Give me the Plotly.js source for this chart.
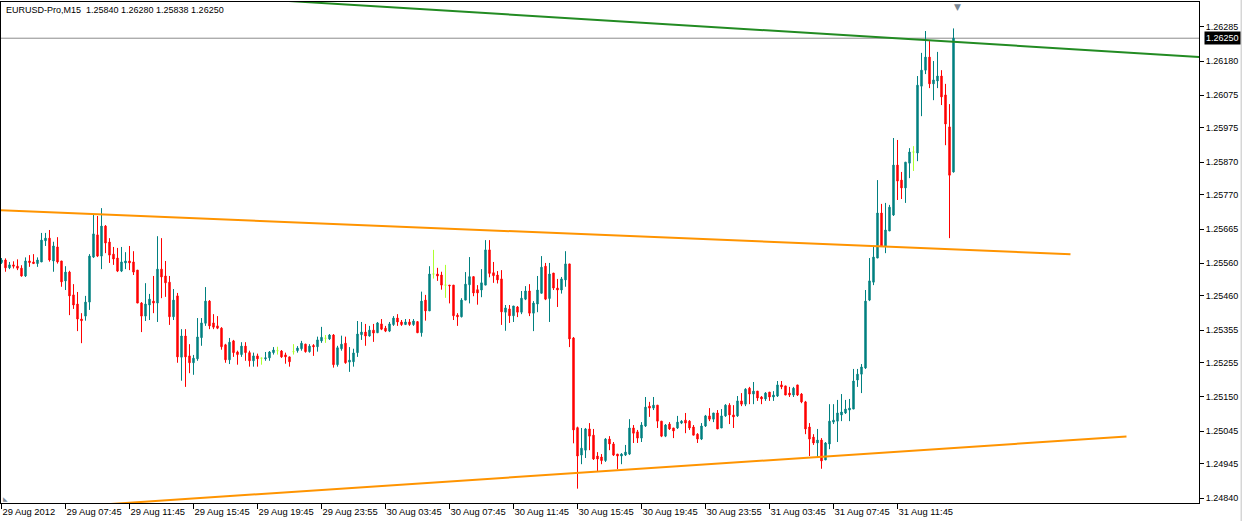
<!DOCTYPE html>
<html><head><meta charset="utf-8">
<script src="https://cdn.plot.ly/plotly-3.0.1.min.js"></script>
<style>html,body{margin:0;padding:0;background:#fff;overflow:hidden}#chart{width:1242px;height:521px;}</style>
</head><body><div id="chart"></div>
<script>
const headerText = "EURUSD-Pro,M15  1.25840 1.26280 1.25838 1.26250";

const openP = [
1.25562,1.25570,1.25546,1.25555,1.25551,1.25545,1.25521,1.25567,1.25564,1.25559,
1.25564,1.25629,1.25637,1.25567,1.25610,1.25567,1.25506,1.25533,1.25463,1.25435,
1.25389,1.25398,1.25441,1.25579,1.25647,1.25582,1.25674,1.25625,1.25588,1.25576,
1.25536,1.25561,1.25567,1.25564,1.25539,1.25438,1.25398,1.25432,1.25444,1.25438,
1.25542,1.25521,1.25502,1.25396,1.25460,1.25272,1.25337,1.25276,1.25255,1.25267,
1.25332,1.25376,1.25444,1.25377,1.25368,1.25361,1.25310,1.25264,1.25322,1.25288,
1.25280,1.25306,1.25286,1.25261,1.25276,1.25269,1.25267,1.25270,1.25286,1.25292,
1.25291,1.25279,1.25273,1.25289,1.25292,1.25298,1.25312,1.25289,1.25308,1.25304,
1.25322,1.25330,1.25328,1.25340,1.25249,1.25298,1.25315,1.25257,1.25258,1.25286,
1.25341,1.25349,1.25337,1.25355,1.25347,1.25374,1.25361,1.25352,1.25372,1.25392,
1.25380,1.25372,1.25380,1.25372,1.25381,1.25347,1.25447,1.25414,1.25527,1.25527,
1.25524,1.25493,1.25493,1.25493,1.25401,1.25396,1.25447,1.25494,1.25519,1.25479,
1.25478,1.25493,1.25601,1.25531,1.25524,1.25512,1.25410,1.25420,1.25399,1.25426,
1.25410,1.25450,1.25475,1.25407,1.25435,1.25468,1.25551,1.25452,1.25530,1.25484,
1.25478,1.25509,1.25558,1.25331,1.25056,1.24972,1.24987,1.25052,1.25033,1.24969,
1.24966,1.24955,1.25021,1.25006,1.24975,1.24969,1.24972,1.24975,1.25055,1.25043,
1.25024,1.25061,1.25122,1.25116,1.25125,1.25076,1.25030,1.25067,1.25055,1.25055,
1.25070,1.25079,1.25076,1.25058,1.25036,1.25021,1.25061,1.25092,1.25082,1.25101,
1.25055,1.25092,1.25125,1.25095,1.25092,1.25138,1.25128,1.25177,1.25159,1.25168,
1.25150,1.25144,1.25165,1.25150,1.25153,1.25187,1.25184,1.25162,1.25156,1.25187,
1.25159,1.25135,1.25058,1.25027,1.25009,1.25018,1.24957,1.25006,1.25073,1.25076,
1.25095,1.25101,1.25110,1.25113,1.25202,1.25220,1.25239,1.25447,1.25502,1.25576,
1.25714,1.25613,1.25659,1.25708,1.25861,1.25815,1.25791,1.25867,1.25901,1.25898,
1.26103,1.26152,1.26192,1.26110,1.26119,1.26134,1.26076,1.25978,1.25840];

const highP = [
1.25576,1.25575,1.25564,1.25566,1.25572,1.25554,1.25578,1.25585,1.25588,1.25578,
1.25653,1.25653,1.25662,1.25626,1.25640,1.25567,1.25551,1.25537,1.25496,1.25472,
1.25407,1.25460,1.25588,1.25709,1.25705,1.25729,1.25677,1.25637,1.25610,1.25607,
1.25610,1.25594,1.25613,1.25597,1.25539,1.25441,1.25499,1.25466,1.25521,1.25643,
1.25637,1.25567,1.25521,1.25481,1.25469,1.25358,1.25358,1.25312,1.25279,1.25392,
1.25392,1.25487,1.25447,1.25404,1.25398,1.25364,1.25313,1.25331,1.25325,1.25292,
1.25318,1.25318,1.25292,1.25286,1.25283,1.25270,1.25288,1.25291,1.25303,1.25304,
1.25294,1.25286,1.25274,1.25312,1.25306,1.25322,1.25313,1.25312,1.25312,1.25335,
1.25365,1.25340,1.25343,1.25343,1.25307,1.25338,1.25335,1.25303,1.25298,1.25383,
1.25380,1.25374,1.25368,1.25374,1.25380,1.25389,1.25368,1.25380,1.25398,1.25404,
1.25386,1.25389,1.25389,1.25389,1.25383,1.25473,1.25463,1.25551,1.25601,1.25546,
1.25534,1.25555,1.25493,1.25493,1.25407,1.25453,1.25533,1.25579,1.25519,1.25493,
1.25542,1.25631,1.25631,1.25564,1.25536,1.25539,1.25432,1.25432,1.25429,1.25429,
1.25475,1.25490,1.25496,1.25444,1.25521,1.25582,1.25561,1.25561,1.25530,1.25512,
1.25518,1.25597,1.25558,1.25334,1.25059,1.25055,1.25055,1.25070,1.25052,1.24981,
1.24975,1.25024,1.25030,1.25012,1.24975,1.24978,1.25003,1.25082,1.25064,1.25049,
1.25073,1.25150,1.25135,1.25150,1.25125,1.25076,1.25067,1.25073,1.25055,1.25092,
1.25079,1.25101,1.25079,1.25064,1.25039,1.25070,1.25095,1.25116,1.25101,1.25110,
1.25113,1.25128,1.25131,1.25125,1.25153,1.25162,1.25177,1.25181,1.25196,1.25168,
1.25153,1.25165,1.25165,1.25168,1.25199,1.25199,1.25184,1.25181,1.25181,1.25187,
1.25162,1.25138,1.25070,1.25036,1.25052,1.25024,1.25012,1.25128,1.25128,1.25141,
1.25159,1.25141,1.25144,1.25236,1.25236,1.25251,1.25478,1.25576,1.25613,1.25815,
1.25742,1.25745,1.25739,1.25944,1.25938,1.25840,1.25870,1.25913,1.25919,1.26134,
1.26205,1.26272,1.26241,1.26180,1.26208,1.26152,1.26110,1.26048,1.26280];

const lowP = [
1.25558,1.25534,1.25542,1.25544,1.25539,1.25519,1.25518,1.25549,1.25558,1.25549,
1.25564,1.25613,1.25565,1.25534,1.25559,1.25488,1.25478,1.25401,1.25420,1.25352,
1.25315,1.25384,1.25417,1.25576,1.25579,1.25542,1.25591,1.25561,1.25555,1.25533,
1.25533,1.25542,1.25539,1.25524,1.25438,1.25349,1.25383,1.25386,1.25407,1.25380,
1.25453,1.25457,1.25371,1.25386,1.25255,1.25200,1.25181,1.25223,1.25218,1.25261,
1.25307,1.25368,1.25358,1.25358,1.25358,1.25295,1.25255,1.25251,1.25273,1.25249,
1.25273,1.25261,1.25243,1.25243,1.25243,1.25249,1.25261,1.25261,1.25280,1.25280,
1.25270,1.25252,1.25243,1.25280,1.25286,1.25292,1.25286,1.25286,1.25276,1.25289,
1.25316,1.25316,1.25325,1.25240,1.25243,1.25292,1.25252,1.25227,1.25243,1.25273,
1.25325,1.25307,1.25335,1.25319,1.25346,1.25355,1.25349,1.25349,1.25368,1.25368,
1.25368,1.25371,1.25368,1.25368,1.25346,1.25335,1.25384,1.25414,1.25513,1.25506,
1.25479,1.25454,1.25437,1.25386,1.25368,1.25394,1.25447,1.25437,1.25459,1.25433,
1.25456,1.25493,1.25517,1.25500,1.25498,1.25371,1.25353,1.25377,1.25380,1.25395,
1.25404,1.25447,1.25398,1.25352,1.25410,1.25468,1.25447,1.25380,1.25478,1.25426,
1.25467,1.25488,1.25303,1.25008,1.24869,1.24944,1.24963,1.24987,1.24957,1.24923,
1.24944,1.24951,1.24987,1.24969,1.24929,1.24944,1.24969,1.24972,1.25009,1.25009,
1.25012,1.25058,1.25089,1.25110,1.25055,1.25027,1.25027,1.25049,1.25024,1.25052,
1.25067,1.25039,1.25049,1.25033,1.25009,1.25018,1.25058,1.25076,1.25073,1.25052,
1.25055,1.25089,1.25067,1.25055,1.25089,1.25122,1.25122,1.25128,1.25128,1.25138,
1.25128,1.25138,1.25138,1.25138,1.25150,1.25174,1.25156,1.25150,1.25150,1.25153,
1.25131,1.25036,1.24969,1.25003,1.24963,1.24930,1.24957,1.24990,1.25067,1.25012,
1.25076,1.25098,1.25076,1.25113,1.25181,1.25162,1.25236,1.25444,1.25493,1.25576,
1.25613,1.25591,1.25659,1.25705,1.25754,1.25757,1.25745,1.25821,1.25843,1.25873,
1.26011,1.26140,1.26097,1.26060,1.26097,1.26045,1.25922,1.25637,1.25838];

const closeP = [
1.25570,1.25546,1.25555,1.25551,1.25545,1.25521,1.25567,1.25562,1.25559,1.25570,
1.25631,1.25637,1.25570,1.25613,1.25564,1.25503,1.25533,1.25460,1.25432,1.25389,
1.25384,1.25441,1.25582,1.25650,1.25582,1.25674,1.25622,1.25585,1.25573,1.25536,
1.25564,1.25567,1.25561,1.25533,1.25438,1.25398,1.25435,1.25450,1.25438,1.25542,
1.25518,1.25500,1.25396,1.25447,1.25273,1.25337,1.25273,1.25255,1.25269,1.25334,
1.25377,1.25444,1.25368,1.25364,1.25361,1.25304,1.25264,1.25318,1.25286,1.25280,
1.25306,1.25286,1.25261,1.25276,1.25267,1.25269,1.25270,1.25288,1.25294,1.25292,
1.25273,1.25273,1.25258,1.25289,1.25300,1.25315,1.25289,1.25306,1.25304,1.25325,
1.25333,1.25330,1.25340,1.25249,1.25301,1.25312,1.25255,1.25263,1.25285,1.25343,
1.25349,1.25337,1.25355,1.25346,1.25377,1.25358,1.25352,1.25374,1.25392,1.25380,
1.25372,1.25380,1.25372,1.25383,1.25347,1.25444,1.25414,1.25527,1.25527,1.25521,
1.25493,1.25493,1.25491,1.25399,1.25396,1.25447,1.25496,1.25519,1.25469,1.25469,
1.25500,1.25601,1.25529,1.25522,1.25509,1.25411,1.25423,1.25399,1.25429,1.25410,
1.25453,1.25475,1.25407,1.25438,1.25478,1.25548,1.25450,1.25527,1.25484,1.25478,
1.25512,1.25558,1.25328,1.25049,1.24969,1.24993,1.25052,1.25030,1.24960,1.24960,
1.24955,1.25021,1.25006,1.24972,1.24969,1.24975,1.24981,1.25055,1.25039,1.25024,
1.25064,1.25119,1.25116,1.25125,1.25076,1.25030,1.25064,1.25052,1.25046,1.25073,
1.25076,1.25070,1.25055,1.25033,1.25021,1.25061,1.25092,1.25082,1.25101,1.25052,
1.25092,1.25125,1.25095,1.25089,1.25138,1.25128,1.25174,1.25159,1.25168,1.25147,
1.25144,1.25162,1.25150,1.25156,1.25187,1.25181,1.25156,1.25156,1.25177,1.25156,
1.25135,1.25052,1.25021,1.25009,1.25018,1.24954,1.25009,1.25076,1.25079,1.25101,
1.25104,1.25113,1.25116,1.25199,1.25220,1.25242,1.25444,1.25506,1.25579,1.25714,
1.25613,1.25662,1.25732,1.25861,1.25812,1.25791,1.25870,1.25901,1.25901,1.26106,
1.26152,1.26192,1.26110,1.26122,1.26134,1.26070,1.25987,1.25830,1.26250];

const xTickBars = [0,16,32,48,64,80,96,112,128,144,160,176,192,208,224];
const xTickLabels = ["29 Aug 2012","29 Aug 07:45","29 Aug 11:45","29 Aug 15:45","29 Aug 19:45",
  "29 Aug 23:55","30 Aug 03:45","30 Aug 07:45","30 Aug 11:45","30 Aug 15:45","30 Aug 19:45",
  "30 Aug 23:55","31 Aug 03:45","31 Aug 07:45","31 Aug 11:45"];
const yTickVals = [1.26285,1.26180,1.26075,1.25975,1.25870,1.25770,1.25665,1.25560,1.25460,1.25355,1.25255,1.25150,1.25045,1.24945,1.24840];
const yTickLabels = ["1.26285","1.26180","1.26075","1.25975","1.25870","1.25770","1.25665","1.25560","1.25460","1.25355","1.25255","1.25150","1.25045","1.24945","1.24840"];
const currentPrice = 1.26250;
const currentPriceLabel = "1.26250";

const greenLineBars = [60, 300];
const greenLinePrices = [1.26373, 1.26192];
const upperOrangeBars = [-5, 267.25];
const upperOrangePrices = [1.25725, 1.25588];
const lowerOrangeBars = [20, 281.25];
const lowerOrangePrices = [1.24816, 1.25029];
const shiftMarkerBar = 239.1;

const norm = {x:[],o:[],h:[],l:[],c:[]};
const doji = {x:[],o:[],h:[],l:[],c:[]};
for (let i = 0; i < openP.length; i++) {
  const t = (openP[i] === closeP[i]) ? doji : norm;
  t.x.push(i); t.o.push(openP[i]); t.h.push(highP[i]); t.l.push(lowP[i]); t.c.push(closeP[i]);
}
const TEAL = '#008080', RED = '#ff0000', LIME = '#adff2f';
const traces = [
  {type:'candlestick', x:norm.x, open:norm.o, high:norm.h, low:norm.l, close:norm.c,
   increasing:{line:{color:TEAL,width:1}, fillcolor:TEAL},
   decreasing:{line:{color:RED,width:1}, fillcolor:RED}, hoverinfo:'skip'},
  {type:'candlestick', x:doji.x, open:doji.o, high:doji.h, low:doji.l, close:doji.c,
   increasing:{line:{color:LIME,width:1}, fillcolor:LIME},
   decreasing:{line:{color:LIME,width:1}, fillcolor:LIME}, hoverinfo:'skip'},
  {type:'scatter', mode:'lines', x:upperOrangeBars, y:upperOrangePrices, line:{color:'#ff9400',width:2}, hoverinfo:'skip'},
  {type:'scatter', mode:'lines', x:lowerOrangeBars, y:lowerOrangePrices, line:{color:'#ff9400',width:2}, hoverinfo:'skip'},
  {type:'scatter', mode:'lines', x:greenLineBars, y:greenLinePrices, line:{color:'#228b22',width:2}, hoverinfo:'skip'}
];
const FONT = 'Liberation Sans, Arial, sans-serif';
const layout = {
  width:1242, height:521,
  margin:{l:1, r:43, t:2, b:18, pad:0},
  paper_bgcolor:'#ffffff', plot_bgcolor:'#ffffff',
  showlegend:false, hovermode:false, boxgap:0.5,
  xaxis:{range:[-0.125, 299.375], rangeslider:{visible:false}, tickmode:'array',
    tickvals:xTickBars, ticktext:xTickLabels, ticks:'outside', ticklen:5, tickwidth:1, tickcolor:'#000',
    tickangle:0, showgrid:false, zeroline:false, showline:true, mirror:true, linecolor:'#000', linewidth:1,
    ticklabelposition:'outside right', tickfont:{family:FONT, size:9.4, color:'#000'}, fixedrange:true},
  yaxis:{side:'right', range:[1.24825, 1.26361], tickmode:'array', tickvals:yTickVals, ticktext:yTickLabels,
    ticks:'outside', ticklen:4, tickwidth:1, tickcolor:'#000', showgrid:false, zeroline:false,
    showline:true, mirror:true, linecolor:'#000', linewidth:1,
    tickfont:{family:FONT, size:9, color:'#000'}, fixedrange:true},
  shapes:[
    {type:'line', xref:'paper', x0:0, x1:1, yref:'y', y0:currentPrice, y1:currentPrice,
     line:{color:'#8c8c8c', width:1}, layer:'below'},
    {type:'line', xref:'paper', x0:1.0355, x1:1.0355, yref:'paper', y0:-0.04, y1:1.01,
     line:{color:'#d6d6d6', width:2}}
  ],
  annotations:[
    {xref:'paper', yref:'paper', x:0, y:1, xanchor:'left', yanchor:'top', xshift:3, yshift:-1,
     text:headerText, showarrow:false, font:{family:FONT, size:9, color:'#000'}},
    {xref:'paper', yref:'y', x:1, y:currentPrice, xanchor:'left', yanchor:'middle', xshift:5,
     text:currentPriceLabel, showarrow:false, bgcolor:'#000', borderpad:1,
     font:{family:FONT, size:9, color:'#fff'}},
    {xref:'x', yref:'paper', x:shiftMarkerBar, y:1, xanchor:'center', yanchor:'top', yshift:2,
     text:'\u25BC', showarrow:false, font:{family:'DejaVu Sans', size:9, color:'#7b8794'}},
    {xref:'paper', yref:'paper', x:0, y:0, xanchor:'left', yanchor:'bottom', xshift:0, yshift:-1,
     text:'\u25E3', showarrow:false, font:{family:'DejaVu Sans', size:6, color:'#7b8794'}}
  ]
};
Plotly.newPlot('chart', traces, layout, {staticPlot:true, displayModeBar:false});
</script></body></html>
